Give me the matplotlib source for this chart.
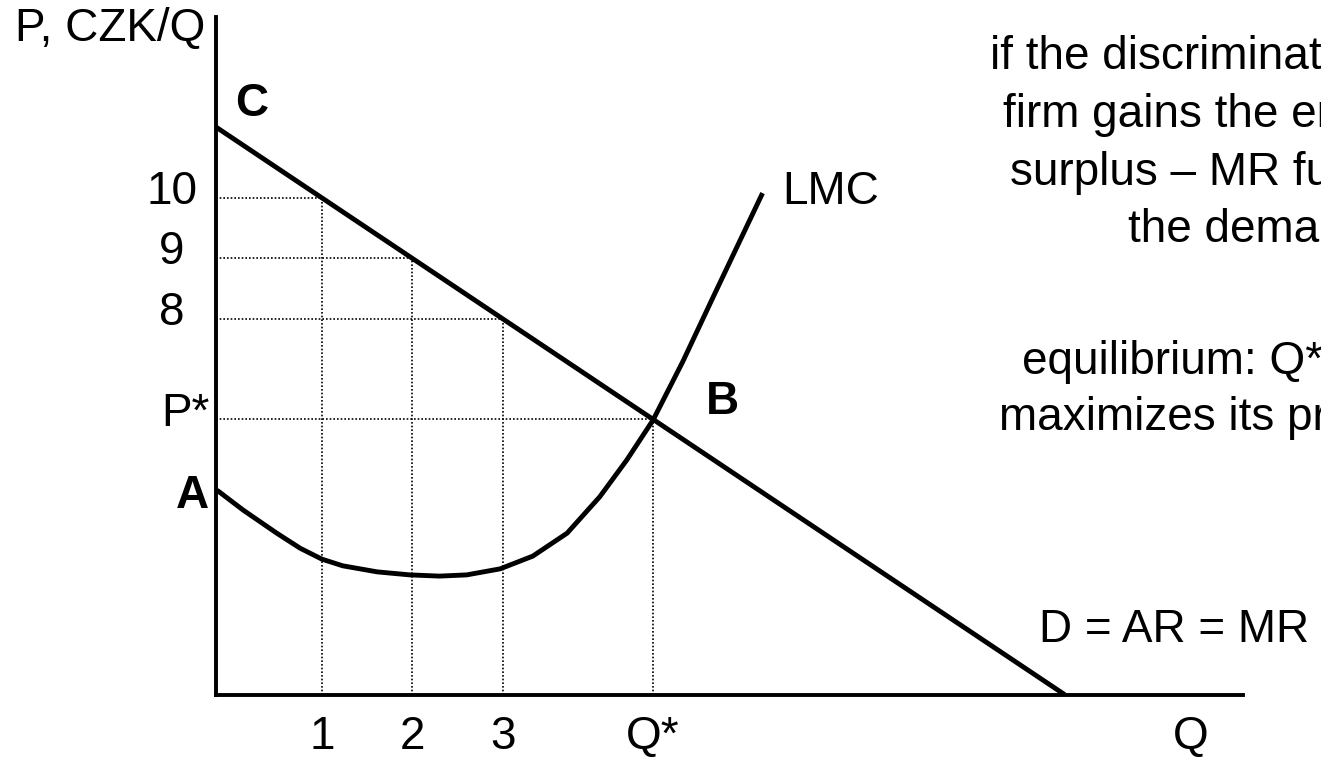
import matplotlib
matplotlib.use("Agg")
import matplotlib.pyplot as plt

plt.rcParams['font.family'] = ['Liberation Sans', 'DejaVu Sans']

# values
q_ticks   = [1, 2, 3]
p_ticks   = [10, 9, 8]
q_star    = 4.66
p_star    = 6.34
demand_q  = [-0.17, 9.21]
demand_p  = [11.17, 1.79]
lmc_q = [-0.16, 0.13, 0.50, 0.76, 1.00, 1.23, 1.61, 1.97, 2.30, 2.60,
         2.97, 3.33, 3.71, 4.07, 4.37, 4.66, 4.99, 5.32, 5.87]
lmc_p = [5.17, 4.84, 4.46, 4.21, 4.03, 3.92, 3.82, 3.77, 3.75, 3.77,
         3.87, 4.08, 4.46, 5.06, 5.67, 6.33, 7.30, 8.35, 10.08]
note_lines = ["if the discriminating monopoly",
              "firm gains the entire consumer",
              "surplus \u2013 MR function is",
              "the demand function",
              "equilibrium: Q* \u2013 the firm",
              "maximizes its profit"]

W, H = 1321, 758
fig = plt.figure(figsize=(W / 100, H / 100), dpi=100)
x0, x1, y0, y1 = 216, 1243, 695, 17
ax = fig.add_axes([x0 / W, 1 - y0 / H, (x1 - x0) / W, (y0 - y1) / H])
ax.set_xlim(-0.171, 11.18)
ax.set_ylim(1.785, 12.99)
for s in ['top', 'right']:
    ax.spines[s].set_visible(False)
for s in ['left', 'bottom']:
    ax.spines[s].set_linewidth(2.8)
    ax.spines[s].set_capstyle('projecting')
ax.set_xticks([])
ax.set_yticks([])

xmin, ymin = ax.get_xlim()[0], ax.get_ylim()[0]
fs = 33
dot = dict(color='black', lw=1.2, ls=(0, (1, 1.2)))

# dotted guides
for q, p in zip(q_ticks + [q_star], p_ticks + [p_star]):
    ax.plot([xmin, q], [p, p], **dot)
    ax.plot([q, q], [ymin, p], **dot)

ax.plot(demand_q, demand_p, color='black', lw=3.5, solid_capstyle='butt')
ax.plot(lmc_q, lmc_p, color='black', lw=3.5, solid_capstyle='butt',
        solid_joinstyle='round')

# labels on the price axis
for p in p_ticks:
    ax.annotate(str(p), xy=(xmin, p), xytext=(-31.7, 4.3),
                textcoords='offset points', ha='center', va='center', fontsize=fs)
ax.annotate('P*', xy=(xmin, p_star), xytext=(-22.3, 4.0),
            textcoords='offset points', ha='center', va='center', fontsize=fs)
# labels on the quantity axis
for q in q_ticks:
    ax.annotate(str(q), xy=(q, ymin), xytext=(0, -30.5),
                textcoords='offset points', ha='center', va='center', fontsize=fs)
ax.annotate('Q*', xy=(q_star, ymin), xytext=(0, -30.5),
            textcoords='offset points', ha='center', va='center', fontsize=fs)


def ftext(x, y, s, **kw):
    fig.text(x / W, 1 - y / H, s, fontsize=fs, va='center', **kw)


ftext(1191, 737, 'Q', ha='center')
ftext(205, 29, 'P, CZK/Q', ha='right')
ftext(252, 104, 'C', ha='center', fontweight='bold')
ftext(192, 496, 'A', ha='center', fontweight='bold')
ftext(722, 402, 'B', ha='center', fontweight='bold')
ftext(782, 192, 'LMC', ha='left')
ftext(1039, 630, 'D = AR = MR', ha='left')

note_x = [990, 1003, 1010, 1128, 1022, 999]
note_y = [57, 115, 173, 230, 362, 418]
for x, y, s in zip(note_x, note_y, note_lines):
    ftext(x, y, s, ha='left')

fig.savefig('out.png', dpi=100)
